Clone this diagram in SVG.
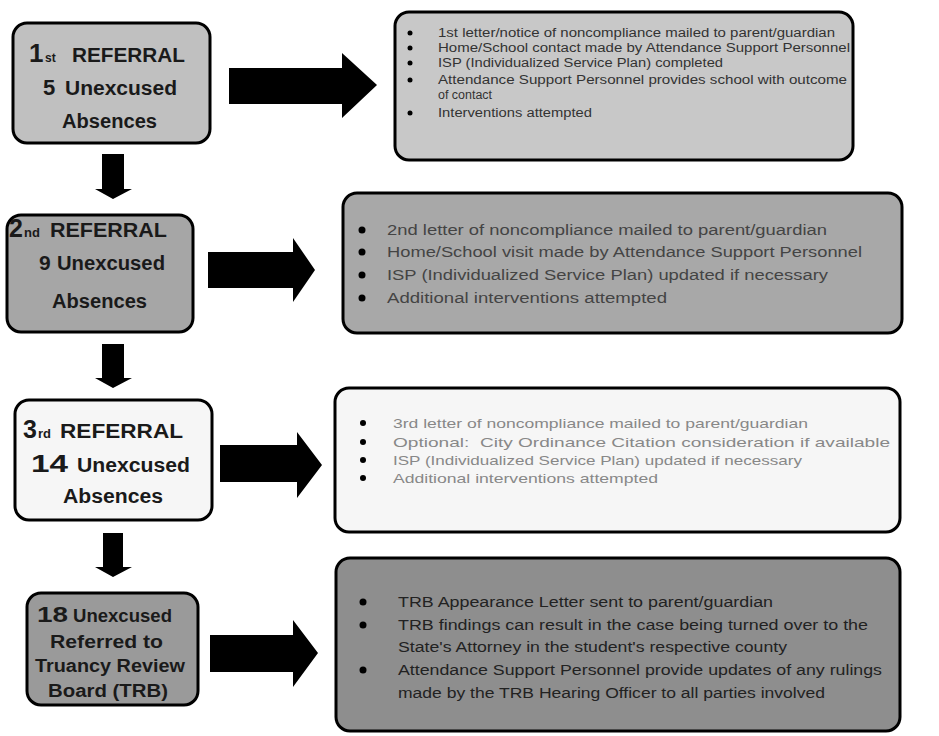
<svg xmlns="http://www.w3.org/2000/svg" width="939" height="736" viewBox="0 0 939 736">
<style>
.box{stroke:#000;stroke-width:3}
.lt{font-family:"Liberation Sans",Arial,sans-serif;font-weight:bold;fill:#1a1a1a}
.rt{font-family:"Liberation Sans",Arial,sans-serif}
.arr{fill:#000}
</style>
<rect width="939" height="736" fill="#fff"/>
<g id="connectors">
<polygon class="arr" points="229,68 342,68 342,53 377,85 342,118 342,104 229,104"/>
<polygon class="arr" points="208,252 293,252 293,238 315,270 293,302 293,288 208,288"/>
<polygon class="arr" points="220,445 297,445 297,432 322,465 297,498 297,482 220,482"/>
<polygon class="arr" points="210,635 293,635 293,620 318,653 293,687 293,672 210,672"/>
<polygon class="arr" points="102,154 124,154 124,189 132,189 113,199 95,189 102,189"/>
<polygon class="arr" points="102,344 124,344 124,378 132,378 113,388 95,378 102,378"/>
<polygon class="arr" points="103,533 123,533 123,567 132,567 113,577 95,567 103,567"/>
</g>
<g id="ref1">
<rect class="box" x="13" y="23" width="197" height="120" rx="14" fill="#c0c0c0"/>
<text class="lt" x="29" y="62" font-size="26">1</text>
<text class="lt" x="45" y="62" font-size="12">st</text>
<text class="lt" x="72" y="62" font-size="20" textLength="113" lengthAdjust="spacingAndGlyphs">REFERRAL</text>
<text class="lt" x="43" y="95" font-size="22">5</text>
<text class="lt" x="65" y="95" font-size="20" textLength="112" lengthAdjust="spacingAndGlyphs">Unexcused</text>
<text class="lt" x="62" y="128" font-size="20" textLength="95" lengthAdjust="spacingAndGlyphs">Absences</text>
</g>
<g id="ref2">
<rect class="box" x="7" y="215" width="186" height="117" rx="14" fill="#a6a6a6"/>
<text class="lt" x="9" y="237" font-size="25">2</text>
<text class="lt" x="24" y="237" font-size="13">nd</text>
<text class="lt" x="50" y="237" font-size="20" textLength="117" lengthAdjust="spacingAndGlyphs">REFERRAL</text>
<text class="lt" x="39" y="270" font-size="21">9</text>
<text class="lt" x="57" y="270" font-size="20" textLength="108" lengthAdjust="spacingAndGlyphs">Unexcused</text>
<text class="lt" x="52" y="308" font-size="20" textLength="95" lengthAdjust="spacingAndGlyphs">Absences</text>
</g>
<g id="ref3">
<rect class="box" x="15" y="400" width="197" height="120" rx="14" fill="#f6f6f6"/>
<text class="lt" x="23" y="438" font-size="25">3</text>
<text class="lt" x="38" y="438" font-size="13">rd</text>
<text class="lt" x="60" y="438" font-size="20" textLength="123" lengthAdjust="spacingAndGlyphs">REFERRAL</text>
<text class="lt" x="31" y="472" font-size="24" textLength="37" lengthAdjust="spacingAndGlyphs">14</text>
<text class="lt" x="77" y="472" font-size="20" textLength="113" lengthAdjust="spacingAndGlyphs">Unexcused</text>
<text class="lt" x="63" y="503" font-size="20" textLength="100" lengthAdjust="spacingAndGlyphs">Absences</text>
</g>
<g id="trb">
<rect class="box" x="27" y="593" width="171" height="112" rx="14" fill="#9a9a9a"/>
<text class="lt" x="37" y="622" font-size="22" textLength="31" lengthAdjust="spacingAndGlyphs">18</text>
<text class="lt" x="73" y="622" font-size="18" textLength="99" lengthAdjust="spacingAndGlyphs">Unexcused</text>
<text class="lt" x="50" y="648" font-size="18" textLength="113" lengthAdjust="spacingAndGlyphs">Referred to</text>
<text class="lt" x="35" y="672" font-size="18" textLength="150" lengthAdjust="spacingAndGlyphs">Truancy Review</text>
<text class="lt" x="48" y="697" font-size="18" textLength="120" lengthAdjust="spacingAndGlyphs">Board (TRB)</text>
</g>
<g id="actions1">
<rect class="box" x="395" y="12" width="458" height="148" rx="14" fill="#c8c8c8"/>
<g fill="#000"><circle cx="410" cy="33" r="2.5"/><circle cx="410" cy="48" r="2.5"/><circle cx="410" cy="63" r="2.5"/><circle cx="410" cy="80" r="2.5"/><circle cx="410" cy="113" r="2.5"/></g>
<g class="rt" font-size="12" fill="#333">
<text x="438" y="37" textLength="397" lengthAdjust="spacingAndGlyphs">1st letter/notice of noncompliance mailed to parent/guardian</text>
<text x="438" y="52" textLength="412" lengthAdjust="spacingAndGlyphs">Home/School contact made by Attendance Support Personnel</text>
<text x="438" y="67" textLength="285" lengthAdjust="spacingAndGlyphs">ISP (Individualized Service Plan) completed</text>
<text x="438" y="84" textLength="409" lengthAdjust="spacingAndGlyphs">Attendance Support Personnel provides school with outcome</text>
<text x="438" y="99" textLength="54" lengthAdjust="spacingAndGlyphs">of contact</text>
<text x="438" y="117" textLength="154" lengthAdjust="spacingAndGlyphs">Interventions attempted</text>
</g>
</g>
<g id="actions2">
<rect class="box" x="343" y="193" width="559" height="140" rx="14" fill="#a8a8a8"/>
<g fill="#000"><circle cx="362" cy="230" r="3.5"/><circle cx="362" cy="252" r="3.5"/><circle cx="362" cy="275" r="3.5"/><circle cx="362" cy="298" r="3.5"/></g>
<g class="rt" font-size="14" fill="#444">
<text x="387" y="235" textLength="440" lengthAdjust="spacingAndGlyphs">2nd letter of noncompliance mailed to parent/guardian</text>
<text x="387" y="257" textLength="475" lengthAdjust="spacingAndGlyphs">Home/School visit made by Attendance Support Personnel</text>
<text x="387" y="280" textLength="441" lengthAdjust="spacingAndGlyphs">ISP (Individualized Service Plan) updated if necessary</text>
<text x="387" y="303" textLength="280" lengthAdjust="spacingAndGlyphs">Additional interventions attempted</text>
</g>
</g>
<g id="actions3">
<rect class="box" x="335" y="388" width="565" height="144" rx="14" fill="#f6f6f6"/>
<g fill="#000"><circle cx="363" cy="423" r="3"/><circle cx="363" cy="442" r="3"/><circle cx="363" cy="460" r="3"/><circle cx="363" cy="478" r="3"/></g>
<g class="rt" font-size="13" fill="#888">
<text x="393" y="428" textLength="415" lengthAdjust="spacingAndGlyphs">3rd letter of noncompliance mailed to parent/guardian</text>
<text x="393" y="447" textLength="497" lengthAdjust="spacingAndGlyphs" xml:space="preserve">Optional:  City Ordinance Citation consideration if available</text>
<text x="393" y="465" textLength="409" lengthAdjust="spacingAndGlyphs">ISP (Individualized Service Plan) updated if necessary</text>
<text x="393" y="483" textLength="265" lengthAdjust="spacingAndGlyphs">Additional interventions attempted</text>
</g>
</g>
<g id="actions4">
<rect class="box" x="336" y="558" width="564" height="173" rx="14" fill="#8e8e8e"/>
<g fill="#000"><circle cx="363" cy="602" r="3.5"/><circle cx="363" cy="625" r="3.5"/><circle cx="363" cy="670" r="3.5"/></g>
<g class="rt" font-size="14" fill="#222">
<text x="398" y="607" textLength="375" lengthAdjust="spacingAndGlyphs">TRB Appearance Letter sent to parent/guardian</text>
<text x="398" y="630" textLength="470" lengthAdjust="spacingAndGlyphs">TRB findings can result in the case being turned over to the</text>
<text x="398" y="652" textLength="389" lengthAdjust="spacingAndGlyphs">State's Attorney in the student's respective county</text>
<text x="398" y="675" textLength="484" lengthAdjust="spacingAndGlyphs">Attendance Support Personnel provide updates of any rulings</text>
<text x="398" y="698" textLength="427" lengthAdjust="spacingAndGlyphs">made by the TRB Hearing Officer to all parties involved</text>
</g>
</g>
</svg>
